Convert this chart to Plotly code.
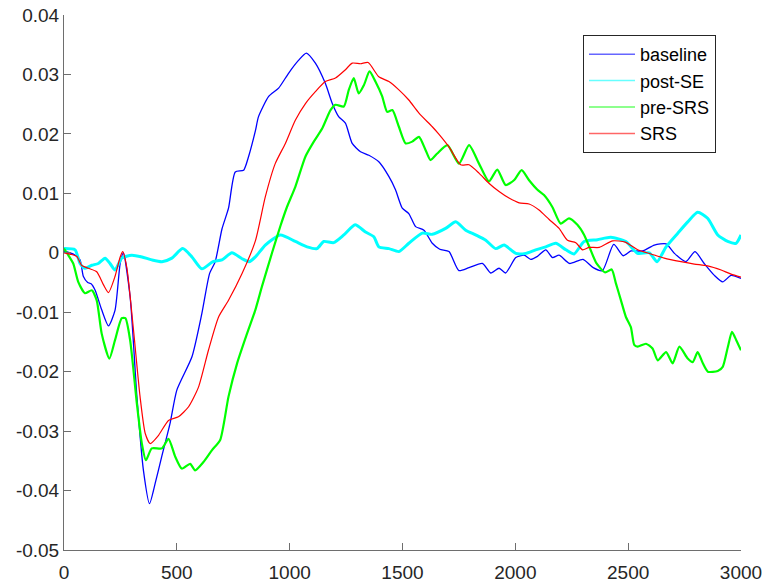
import plotly.graph_objects as go

# ---------------- data ----------------
baseline_x = [0, 45, 71, 86, 105, 120, 138, 167, 197, 226, 249, 263, 293, 323, 352, 379, 404, 433, 470, 500,
              567, 611, 645, 670, 700, 729, 759, 796, 818, 848, 862, 907, 951, 995, 1040, 1074, 1114, 1158,
              1188, 1217, 1247, 1277, 1314, 1351, 1395, 1440, 1469, 1499, 1528, 1558, 1595, 1632, 1665, 1706,
              1750, 1795, 1854, 1891, 1928, 1957, 2002, 2039, 2068, 2098, 2135, 2165, 2194, 2240, 2300, 2345,
              2386, 2436, 2478, 2512, 2564, 2616, 2668, 2705, 2756, 2796, 2837, 2882, 2919, 2956, 3000]
baseline_y = [0.0003, -0.0003, -0.0012, -0.0040, -0.0050, -0.0052, -0.0063, -0.0096, -0.0123, -0.0097,
              -0.0018, 0.0000, -0.0074, -0.0242, -0.0366, -0.0422, -0.0388, -0.0343, -0.0287, -0.0231,
              -0.0175, -0.0102, -0.0035, -0.0015, 0.0040, 0.0075, 0.0136, 0.0139, 0.0162, 0.0205, 0.0229,
              0.0263, 0.0277, 0.0302, 0.0324, 0.0336, 0.0319, 0.0285, 0.0252, 0.0229, 0.0218, 0.0184, 0.0170,
              0.0164, 0.0153, 0.0128, 0.0106, 0.0075, 0.0066, 0.0044, 0.0038, 0.0016, 0.0006, 0.0002,
              -0.0030, -0.0025, -0.0018, -0.0034, -0.0026, -0.0034, -0.0008, -0.0004, -0.0011, -0.0006,
              0.0005, -0.0008, -0.0004, -0.0018, -0.0011, -0.0025, -0.0030, 0.0014, -0.0005, 0.0003, 0.0003,
              0.0013, 0.0015, -0.0001, -0.0015, 0.0002, -0.0018, -0.0038, -0.0049, -0.0038, -0.0043]

postSE_x = [0, 49, 71, 93, 123, 152, 182, 204, 226, 256, 300, 345, 389, 434, 478, 526, 567, 611, 660, 700,
            744, 789, 820, 848, 892, 959, 1025, 1077, 1121, 1151, 1195, 1240, 1290, 1336, 1373, 1395, 1440,
            1484, 1528, 1588, 1632, 1691, 1736, 1780, 1824, 1869, 1913, 1950, 2002, 2046, 2090, 2135, 2179,
            2224, 2260, 2305, 2364, 2423, 2490, 2542, 2594, 2628, 2668, 2720, 2764, 2808, 2852, 2897, 2941,
            2978, 3000]
postSE_y = [0.0007, 0.0005, -0.0018, -0.0026, -0.0021, -0.0018, -0.0009, -0.0018, -0.0029, -0.0009, -0.0004,
            -0.0007, -0.0012, -0.0015, -0.0009, 0.0007, -0.0007, -0.0027, -0.0015, -0.0012, 0.0000, -0.0010,
            -0.0015, -0.0007, 0.0013, 0.0030, 0.0019, 0.0010, 0.0007, 0.0019, 0.0017, 0.0030, 0.0047, 0.0035,
            0.0027, 0.0010, 0.0007, 0.0002, 0.0016, 0.0033, 0.0031, 0.0041, 0.0052, 0.0038, 0.0030, 0.0021,
            0.0007, 0.0013, -0.0001, -0.0001, 0.0005, 0.0010, 0.0016, 0.0005, -0.0002, 0.0019, 0.0022, 0.0026,
            0.0019, -0.0001, 0.0000, -0.0015, 0.0010, 0.0033, 0.0052, 0.0068, 0.0058, 0.0030, 0.0019, 0.0016,
            0.0030]

preSRS_x = [0, 19, 41, 63, 93, 123, 145, 167, 201, 226, 256, 272, 293, 323, 345, 363, 389, 434, 463, 493,
            522, 559, 581, 618, 656, 692, 729, 767, 811, 848, 877, 922, 959, 988, 1025, 1070, 1107, 1144, 1181,
            1203, 1240, 1262, 1284, 1306, 1329, 1354, 1380, 1410, 1432, 1455, 1484, 1514, 1543, 1573, 1602,
            1624, 1654, 1699, 1750, 1795, 1839, 1883, 1920, 1957, 1994, 2028, 2061, 2098, 2127, 2164, 2201,
            2238, 2275, 2305, 2330, 2360, 2398, 2427, 2446, 2468, 2490, 2512, 2527, 2542, 2579, 2608, 2631,
            2668, 2697, 2727, 2764, 2786, 2808, 2831, 2853, 2897, 2919, 2942, 2960, 2979, 3000]
preSRS_y = [0.0007, -0.0004, -0.0018, -0.0049, -0.0068, -0.0063, -0.0080, -0.0136, -0.0178, -0.0147, -0.0110,
            -0.0110, -0.0147, -0.0254, -0.0321, -0.0349, -0.0329, -0.0329, -0.0313, -0.0343, -0.0363, -0.0355,
            -0.0366, -0.0352, -0.0332, -0.0315, -0.0242, -0.0186, -0.0136, -0.0096, -0.0057, 0.0000, 0.0045,
            0.0077, 0.0111, 0.0162, 0.0187, 0.0209, 0.0240, 0.0249, 0.0246, 0.0274, 0.0294, 0.0268, 0.0282,
            0.0305, 0.0288, 0.0263, 0.0237, 0.0240, 0.0212, 0.0184, 0.0187, 0.0195, 0.0173, 0.0156, 0.0167,
            0.0181, 0.0150, 0.0181, 0.0150, 0.0120, 0.0140, 0.0114, 0.0122, 0.0139, 0.0122, 0.0106, 0.0097,
            0.0077, 0.0049, 0.0058, 0.0047, 0.0030, 0.0008, -0.0018, -0.0033, -0.0028, -0.0052, -0.0080,
            -0.0108, -0.0125, -0.0155, -0.0158, -0.0153, -0.0161, -0.0181, -0.0167, -0.0186, -0.0158, -0.0178,
            -0.0184, -0.0167, -0.0186, -0.0200, -0.0199, -0.0192, -0.0158, -0.0133, -0.0147, -0.0164]

SRS_x = [0, 56, 78, 108, 145, 175, 197, 226, 249, 260, 278, 308, 337, 360, 382, 419, 463, 507, 552, 596, 640,
         685, 729, 789, 848, 892, 936, 981, 1025, 1070, 1114, 1158, 1203, 1247, 1277, 1314, 1348, 1395, 1440,
         1484, 1528, 1573, 1632, 1660, 1706, 1758, 1795, 1839, 1883, 1928, 1972, 2017, 2061, 2105, 2150, 2194,
         2231, 2268, 2298, 2327, 2372, 2431, 2487, 2542, 2601, 2660, 2734, 2793, 2852, 2912, 2956, 3000]
SRS_y = [0.0000, -0.0006, -0.0021, -0.0026, -0.0032, -0.0054, -0.0067, -0.0040, -0.0007, 0.0002, -0.0024,
         -0.0130, -0.0242, -0.0304, -0.0321, -0.0307, -0.0282, -0.0276, -0.0259, -0.0226, -0.0164, -0.0108,
         -0.0080, -0.0035, 0.0020, 0.0094, 0.0150, 0.0184, 0.0223, 0.0251, 0.0271, 0.0288, 0.0294, 0.0308,
         0.0319, 0.0318, 0.0320, 0.0296, 0.0288, 0.0274, 0.0257, 0.0235, 0.0212, 0.0200, 0.0178, 0.0148,
         0.0148, 0.0134, 0.0117, 0.0103, 0.0092, 0.0084, 0.0082, 0.0072, 0.0056, 0.0041, 0.0021, 0.0017,
         0.0005, 0.0009, 0.0009, 0.0020, 0.0018, 0.0005, -0.0002, -0.0009, -0.0015, -0.0019, -0.0022,
         -0.0029, -0.0036, -0.0041]

series_names = ["baseline", "post-SE", "pre-SRS", "SRS"]

x_tickvals = [0, 500, 1000, 1500, 2000, 2500, 3000]
x_ticktext = ["0", "500", "1000", "1500", "2000", "2500", "3000"]
y_tickvals = [-0.05, -0.04, -0.03, -0.02, -0.01, 0, 0.01, 0.02, 0.03, 0.04]
y_ticktext = ["-0.05", "-0.04", "-0.03", "-0.02", "-0.01", "0", "0.01", "0.02", "0.03", "0.04"]

# ---------------- figure ----------------
colors = ["#0000ff", "#00ffff", "#00ff00", "#ff0000"]
widths = [1.3, 3.0, 2.2, 1.2]
xs = [baseline_x, postSE_x, preSRS_x, SRS_x]
ys = [baseline_y, postSE_y, preSRS_y, SRS_y]

fig = go.Figure()
for name, c, w, x, y in zip(series_names, colors, widths, xs, ys):
    fig.add_trace(go.Scatter(x=x, y=y, mode="lines", name=name, showlegend=False,
                             line=dict(color=c, width=w, shape="spline", smoothing=0.6)))
# legend entries (thin lines, as in the reference legend)
for name, c in zip(series_names, colors):
    fig.add_trace(go.Scatter(x=[None], y=[None], mode="lines", name=name,
                             line=dict(color=c, width=1.5), opacity=0.6))

axis_col = "#6e6e6e"
tick_font = dict(family="Liberation Sans, Arial, sans-serif", size=19, color="#262626")

fig.update_layout(
    width=765, height=586,
    margin=dict(l=64, r=24, t=15, b=36, autoexpand=False),
    paper_bgcolor="white", plot_bgcolor="white",
    showlegend=True,
    legend=dict(x=(583 - 64) / 677, y=(550 - 35) / 535, xanchor="left", yanchor="top",
                bgcolor="white", bordercolor="#262626", borderwidth=1,
                font=dict(family="Liberation Sans, Arial, sans-serif", size=18, color="black"),
                tracegroupgap=0, itemwidth=46),
    xaxis=dict(range=[0, 3000], tickvals=x_tickvals, ticktext=x_ticktext, automargin=False,
               showgrid=False, zeroline=False, showline=True, linecolor=axis_col, linewidth=1,
               ticks="inside", ticklen=7, tickcolor=axis_col, tickfont=tick_font, mirror=False,
               ticklabelstandoff=5),
    yaxis=dict(range=[-0.05, 0.04], tickvals=y_tickvals, ticktext=y_ticktext, automargin=False,
               showgrid=False, zeroline=False, showline=True, linecolor=axis_col, linewidth=1,
               ticks="inside", ticklen=7, tickcolor=axis_col, tickfont=tick_font, mirror=False),
)

fig.write_html("out.html")
